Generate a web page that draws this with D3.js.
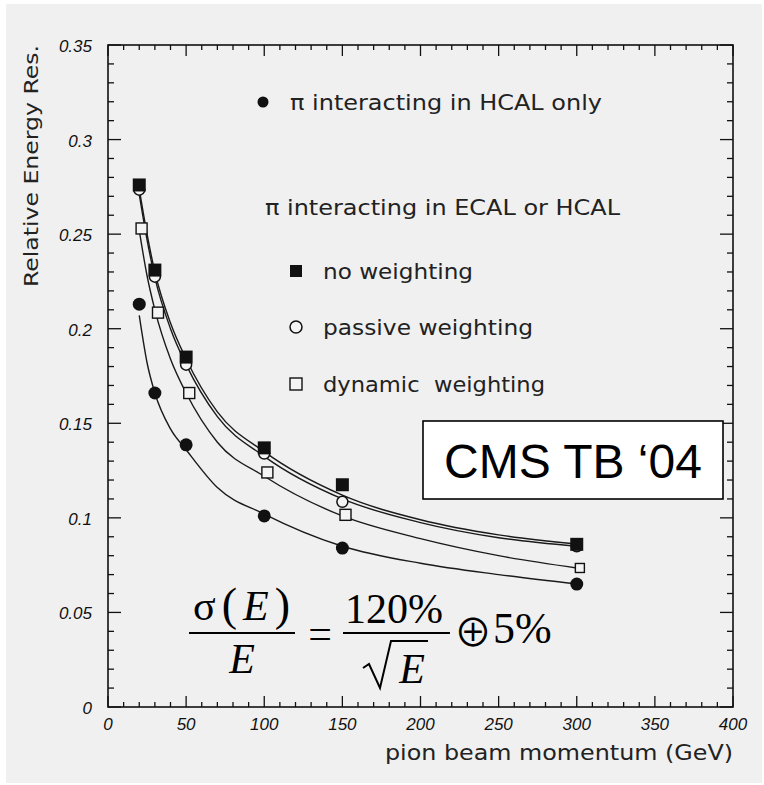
<!DOCTYPE html>
<html>
<head>
<meta charset="utf-8">
<script src="https://cdn.jsdelivr.net/npm/d3@7"></script>
<style>
  html, body { margin: 0; padding: 0; background: #ffffff; }
  svg { display: block; }
</style>
</head>
<body>
<svg id="chart" width="764" height="785"></svg>
<script>
// Beam energies (GeV) of the measured points
const energies = [20, 30, 50, 100, 150, 300];
// dynamic-weighting points are plotted with a small energy offset
const energiesDynamic = [21.5, 32, 52, 102, 152, 302];

// Relative energy resolution, one array per configuration
const hcalOnly   = [0.213, 0.166, 0.1386, 0.101, 0.084, 0.065];
const noWeight   = [0.276, 0.231, 0.185, 0.137, 0.1175, 0.086];
const passiveW   = [0.2735, 0.2275, 0.181, 0.134, 0.1085, 0.085];
const dynamicW   = [0.253, 0.2085, 0.166, 0.124, 0.1016, 0.0735];

// Fitted resolution curves, sampled at these energies
const fitEnergies = [20, 25, 30, 40, 50, 70, 100, 150, 200, 250, 300];
const fitNoWeight = [0.274, 0.250, 0.230, 0.203, 0.184, 0.156, 0.135, 0.112, 0.099, 0.091, 0.0862];
const fitPassive  = [0.271, 0.247, 0.227, 0.200, 0.181, 0.1535, 0.1325, 0.110, 0.0975, 0.0895, 0.0850];
const fitDynamic  = [0.252, 0.228, 0.210, 0.184, 0.166, 0.140, 0.122, 0.101, 0.089, 0.080, 0.0735];
const fitHcalOnly = [0.207, 0.182, 0.166, 0.147, 0.136, 0.116, 0.102, 0.085, 0.076, 0.070, 0.065];

// Axis ticks
const xTickLabels = [0, 50, 100, 150, 200, 250, 300, 350, 400];
const yTickLabels = [0, 0.05, 0.1, 0.15, 0.2, 0.25, 0.3, 0.35];

// Legend entries
const legendTitleHcal = "π interacting in HCAL only";
const legendTitleBoth = "π interacting in ECAL or HCAL";
const legendItems = ["no weighting", "passive weighting", "dynamic\u00a0\u00a0weighting"];

const svg = d3.select("#chart");

// grey page panel
svg.append("rect").attr("x", 6).attr("y", 4).attr("width", 756).attr("height", 779)
  .attr("fill", "#f0f0f0");

const L = 108, R = 733, T = 45, B = 707;
const x = d3.scaleLinear().domain([0, 400]).range([L, R]);
const y = d3.scaleLinear().domain([0, 0.35]).range([B, T]);

const ink = "#111";
const tickFont = "'Liberation Sans', Arial, sans-serif";
const labelFont = "'DejaVu Sans', 'Liberation Sans', sans-serif";

// ---- ticks on all four sides (inward) ----
const xMinor = d3.range(0, 401, 10);
const yMinor = d3.range(0, 0.3501, 0.01);
const isMajorX = v => Math.abs(v % 50) < 1e-6;
const isMajorY = v => Math.abs(Math.round(v * 100) % 5) === 0;

const ticks = svg.append("g").attr("stroke", ink).attr("stroke-width", 1.3);
xMinor.forEach(v => {
  const len = isMajorX(v) ? 11 : 5;
  ticks.append("line").attr("x1", x(v)).attr("x2", x(v)).attr("y1", B).attr("y2", B - len);
  ticks.append("line").attr("x1", x(v)).attr("x2", x(v)).attr("y1", T).attr("y2", T + len);
});
yMinor.forEach(v => {
  const len = isMajorY(v) ? 13 : 6;
  ticks.append("line").attr("x1", L).attr("x2", L + len).attr("y1", y(v)).attr("y2", y(v));
  ticks.append("line").attr("x1", R).attr("x2", R - len).attr("y1", y(v)).attr("y2", y(v));
});

// frame
svg.append("rect").attr("x", L).attr("y", T).attr("width", R - L).attr("height", B - T)
  .attr("fill", "none").attr("stroke", ink).attr("stroke-width", 1.6);

// tick labels
svg.append("g").selectAll("text").data(xTickLabels).join("text")
  .attr("x", d => x(d)).attr("y", 730)
  .attr("text-anchor", "middle")
  .attr("font-family", tickFont).attr("font-style", "italic").attr("font-size", 17)
  .attr("fill", ink)
  .text(d => d);

svg.append("g").selectAll("text").data(yTickLabels).join("text")
  .attr("x", 92).attr("y", d => y(d) + 7)
  .attr("text-anchor", "end")
  .attr("font-family", tickFont).attr("font-style", "italic").attr("font-size", 17)
  .attr("fill", ink)
  .text(d => d === 0 ? "0" : String(d));

// axis titles
svg.append("text")
  .attr("transform", "translate(38,45) rotate(-90)")
  .attr("text-anchor", "end")
  .attr("font-family", labelFont).attr("font-size", 20)
  .attr("fill", "#222")
  .attr("textLength", 242).attr("lengthAdjust", "spacingAndGlyphs")
  .text("Relative Energy Res.");

svg.append("text")
  .attr("x", 733).attr("y", 760)
  .attr("text-anchor", "end")
  .attr("font-family", labelFont).attr("font-size", 21)
  .attr("fill", "#222")
  .attr("textLength", 348).attr("lengthAdjust", "spacingAndGlyphs")
  .text("pion beam momentum (GeV)");

// ---- fit curves ----
const line = d3.line().x(d => x(d[0])).y(d => y(d[1])).curve(d3.curveMonotoneX);
const curves = svg.append("g").attr("fill", "none").attr("stroke", "#1a1a1a").attr("stroke-width", 1.4);
[fitNoWeight, fitPassive, fitDynamic, fitHcalOnly].forEach(vals => {
  curves.append("path").attr("d", line(d3.zip(fitEnergies, vals)));
});

// ---- markers ----
const marks = svg.append("g");
function filledCircle(g, cx, cy, r) {
  g.append("circle").attr("cx", cx).attr("cy", cy).attr("r", r).attr("fill", ink);
}
function openCircle(g, cx, cy, r) {
  g.append("circle").attr("cx", cx).attr("cy", cy).attr("r", r)
    .attr("fill", "#f4f4f4").attr("stroke", ink).attr("stroke-width", 1.5);
}
function filledSquare(g, cx, cy, s) {
  g.append("rect").attr("x", cx - s / 2).attr("y", cy - s / 2).attr("width", s).attr("height", s)
    .attr("fill", ink);
}
function openSquare(g, cx, cy, s) {
  g.append("rect").attr("x", cx - s / 2).attr("y", cy - s / 2).attr("width", s).attr("height", s)
    .attr("fill", "#f4f4f4").attr("stroke", ink).attr("stroke-width", 1.4);
}

energies.forEach((e, i) => openCircle(marks, x(e), y(passiveW[i]), 5.5));
energies.forEach((e, i) => filledSquare(marks, x(e), y(noWeight[i]), 13));
energiesDynamic.forEach((e, i) => openSquare(marks, x(e), y(dynamicW[i]), i === 5 ? 9 : 11));
energies.forEach((e, i) => filledCircle(marks, x(e), y(hcalOnly[i]), 6.5));

// ---- legend ----
const leg = svg.append("g");
const legFont = labelFont;
filledCircle(leg, 263, 102, 5.5);
leg.append("text").attr("x", 290).attr("y", 110)
  .attr("font-family", legFont).attr("font-size", 21).attr("fill", "#222")
  .attr("textLength", 312).attr("lengthAdjust", "spacingAndGlyphs")
  .text(legendTitleHcal);
leg.append("text").attr("x", 265).attr("y", 215)
  .attr("font-family", legFont).attr("font-size", 21).attr("fill", "#222")
  .attr("textLength", 355).attr("lengthAdjust", "spacingAndGlyphs")
  .text(legendTitleBoth);

const itemY = [271, 327, 384];
filledSquare(leg, 296, itemY[0], 12);
openCircle(leg, 296, itemY[1], 6);
openSquare(leg, 296, itemY[2], 12);
const itemWidths = [150, 210, 222];
legendItems.forEach((t, i) => {
  leg.append("text").attr("x", 323).attr("y", itemY[i] + 8)
    .attr("font-family", legFont).attr("font-size", 21).attr("fill", "#222")
    .attr("textLength", itemWidths[i]).attr("lengthAdjust", "spacingAndGlyphs")
    .text(t);
});

// ---- test-beam tag ----
svg.append("rect").attr("x", 423).attr("y", 421).attr("width", 300).attr("height", 78)
  .attr("fill", "#ffffff").attr("stroke", "#000").attr("stroke-width", 1.6);
svg.append("text").attr("x", 573).attr("y", 478).attr("text-anchor", "middle")
  .attr("font-family", "'Liberation Sans', Arial, sans-serif").attr("font-size", 48)
  .attr("fill", "#000")
  .text("CMS TB \u201804");

// ---- resolution formula ----
const serif = "'Liberation Serif', 'Times New Roman', serif";
const f = svg.append("g").attr("fill", "#000").attr("font-family", serif);

const num = f.append("text").attr("x", 193).attr("y", 620).attr("font-size", 42)
  .attr("textLength", 97).attr("lengthAdjust", "spacing");
num.append("tspan").text("σ");
num.append("tspan").attr("font-size", 46).text("(");
num.append("tspan").attr("font-style", "italic").text("E");
num.append("tspan").attr("font-size", 46).text(")");

f.append("line").attr("x1", 189).attr("x2", 295).attr("y1", 633).attr("y2", 633)
  .attr("stroke", "#000").attr("stroke-width", 2);
f.append("text").attr("x", 242).attr("y", 673).attr("text-anchor", "middle")
  .attr("font-size", 42).attr("font-style", "italic").text("E");

f.append("text").attr("x", 320).attr("y", 648).attr("text-anchor", "middle")
  .attr("font-size", 42).text("=");

f.append("text").attr("x", 394).attr("y", 623).attr("text-anchor", "middle")
  .attr("font-size", 42).text("120%");
f.append("line").attr("x1", 343).attr("x2", 450).attr("y1", 633).attr("y2", 633)
  .attr("stroke", "#000").attr("stroke-width", 2);
// radical sign over E
f.append("path")
  .attr("d", "M363,668 L369,664 L380,688 L391,641 L428,641")
  .attr("fill", "none").attr("stroke", "#000").attr("stroke-width", 2)
  .attr("stroke-linejoin", "miter");
f.append("text").attr("x", 412).attr("y", 683).attr("text-anchor", "middle")
  .attr("font-size", 42).attr("font-style", "italic").text("E");

f.append("text").attr("x", 473).attr("y", 646).attr("text-anchor", "middle")
  .attr("font-family", "'Noto Sans CJK JP', 'DejaVu Serif', serif")
  .attr("font-size", 38).text("⊕");
f.append("text").attr("x", 493).attr("y", 643)
  .attr("font-size", 44).text("5%");
</script>
</body>
</html>
